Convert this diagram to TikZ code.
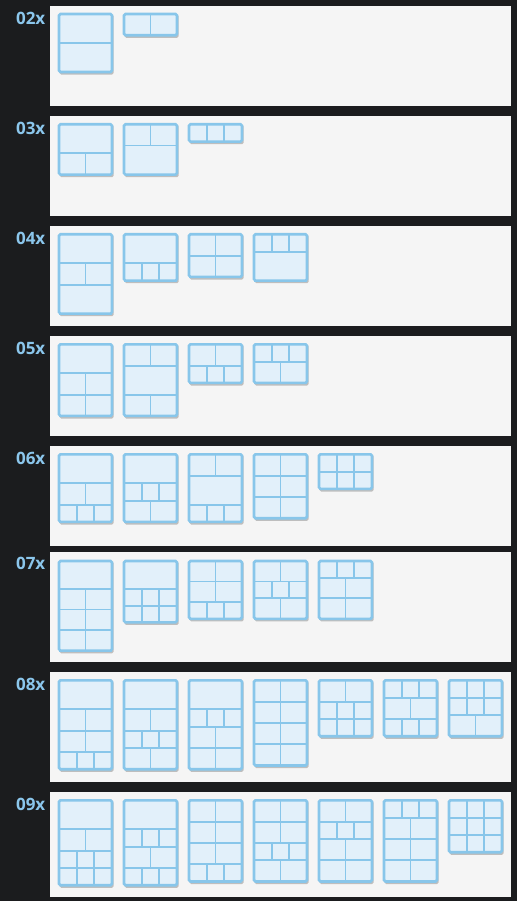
\documentclass[tikz,border=0pt]{standalone}
\usepackage{fontspec}
\setmainfont{DejaVu Sans}
\newfontfamily\labfont{Open Sans}
\definecolor{bg}{HTML}{1B1C1E}
\definecolor{panel}{HTML}{F5F5F5}
\definecolor{tfill}{HTML}{E2F0FA}
\definecolor{tline}{HTML}{88C6EA}
\definecolor{lab}{HTML}{8BC6EC}
\definecolor{shad}{HTML}{BEBEBE}
\tikzset{
  panelbox/.style={fill=panel},
  thumbfill/.style={fill=tfill},
  thumbline/.style={draw=tline, line width=1.8pt},
  thumbborder/.style={draw=tline, line width=2.6pt, rounded corners=1.5pt},
  thumbshadow/.style={fill=shad, rounded corners=1.5pt},
  rowlabel/.style={text=lab, font=\labfont\bfseries\fontsize{17}{19}\selectfont, anchor=east, inner sep=0pt},
}
\def\rscale{1}
\newcommand\rowh[1]{(\rscale*\ifcase#1\or29\or21.3\or17.3\fi)}
\newcommand\thumbbox[3]{%
  \xdef\thH{0}%
  \foreach \r in {#3}{\pgfmathsetmacro\tmp{\thH+\rowh{\r}}\xdef\thH{\tmp}}%
  \fill[thumbshadow] ({#1+1.7},{#2+1.8}) rectangle ({#1+55.6},{#2+\thH+3.6});
  \fill[thumbfill] ({#1+1},{#2+1}) rectangle ({#1+54},{#2+1+\thH});
  \pgfmathsetmacro\cy{#2+1}\xdef\cy{\cy}%
  \foreach \r in {#3}{%
    \pgfmathsetmacro\ny{\cy+\rowh{\r}}%
    \ifnum\r>1
      \foreach \k in {2,...,\r}{%
        \pgfmathsetmacro\vx{#1+1+53*(\k-1)/\r}%
        \draw[thumbline] (\vx,\cy) -- (\vx,\ny);
      }%
    \fi
    \draw[thumbline] ({#1+1},\ny) -- ({#1+54},\ny);
    \xdef\cy{\ny}%
  }%
  \draw[thumbborder] ({#1+1},{#2+1}) rectangle ({#1+54},{#2+1+\thH});
}
\begin{document}
\begin{tikzpicture}[x=1pt,y=-1pt]
\useasboundingbox (0,0) rectangle (517,901);
\fill[bg] (0,0) rectangle (517,901);
% panels
\fill[panelbox] (50,6) rectangle (511,106);
\fill[panelbox] (50,116) rectangle (511,216);
\fill[panelbox] (50,226) rectangle (511,326);
\fill[panelbox] (50,336) rectangle (511,436);
\fill[panelbox] (50,446) rectangle (511,546);
\fill[panelbox] (50,552) rectangle (511,662);
\fill[panelbox] (50,672) rectangle (511,782);
\fill[panelbox] (50,792) rectangle (511,897);
% labels
\node[rowlabel] (l02) at (45.5,18.7) {02x};
\node[rowlabel] (l03) at (45.5,128.7) {03x};
\node[rowlabel] (l04) at (45.5,238.7) {04x};
\node[rowlabel] (l05) at (45.5,348.7) {05x};
\node[rowlabel] (l06) at (45.5,458.7) {06x};
\node[rowlabel] (l07) at (45.5,563.5) {07x};
\node[rowlabel] (l08) at (45.5,684.5) {08x};
\node[rowlabel] (l09) at (45.5,804.5) {09x};
% 02x
\thumbbox{58}{13}{1,1}
\thumbbox{123}{13}{2}
% 03x
\thumbbox{58}{123.3}{1,2}
\thumbbox{123}{123.3}{2,1}
\thumbbox{188}{123.3}{3}
% 04x
\thumbbox{58}{233.3}{1,2,1}
\thumbbox{123}{233.3}{1,3}
\thumbbox{188}{233.3}{2,2}
\thumbbox{253}{233.3}{3,1}
% 05x
\thumbbox{58}{343.3}{1,2,2}
\thumbbox{123}{343.3}{2,1,2}
\thumbbox{188}{343.3}{2,3}
\thumbbox{253}{343.3}{3,2}
% 06x
\thumbbox{58}{453.3}{1,2,3}
\thumbbox{123}{453.3}{1,3,2}
\thumbbox{188}{453.3}{2,1,3}
\thumbbox{253}{453.3}{2,2,2}
\thumbbox{318}{453.3}{3,3}
% 07x
\def\rscale{0.965}
\thumbbox{58}{560}{1,2,2,2}
\thumbbox{123}{560}{1,3,3}
\thumbbox{188}{560}{2,2,3}
\thumbbox{253}{560}{2,3,2}
\thumbbox{318}{560}{3,2,2}
\def\rscale{1}
% 08x
\thumbbox{58}{679.3}{1,2,2,3}
\thumbbox{123}{679.3}{1,2,3,2}
\thumbbox{188}{679.3}{1,3,2,2}
\thumbbox{253}{679.3}{2,2,2,2}
\thumbbox{318}{679.3}{2,3,3}
\thumbbox{383}{679.3}{3,2,3}
\thumbbox{448}{679.3}{3,3,2}
% 09x
\thumbbox{58}{799.3}{1,2,3,3}
\thumbbox{123}{799.3}{1,3,2,3}
\thumbbox{188}{799.3}{2,2,2,3}
\thumbbox{253}{799.3}{2,2,3,2}
\thumbbox{318}{799.3}{2,3,2,2}
\thumbbox{383}{799.3}{3,2,2,2}
\thumbbox{448}{799.3}{3,3,3}
\end{tikzpicture}
\end{document}
